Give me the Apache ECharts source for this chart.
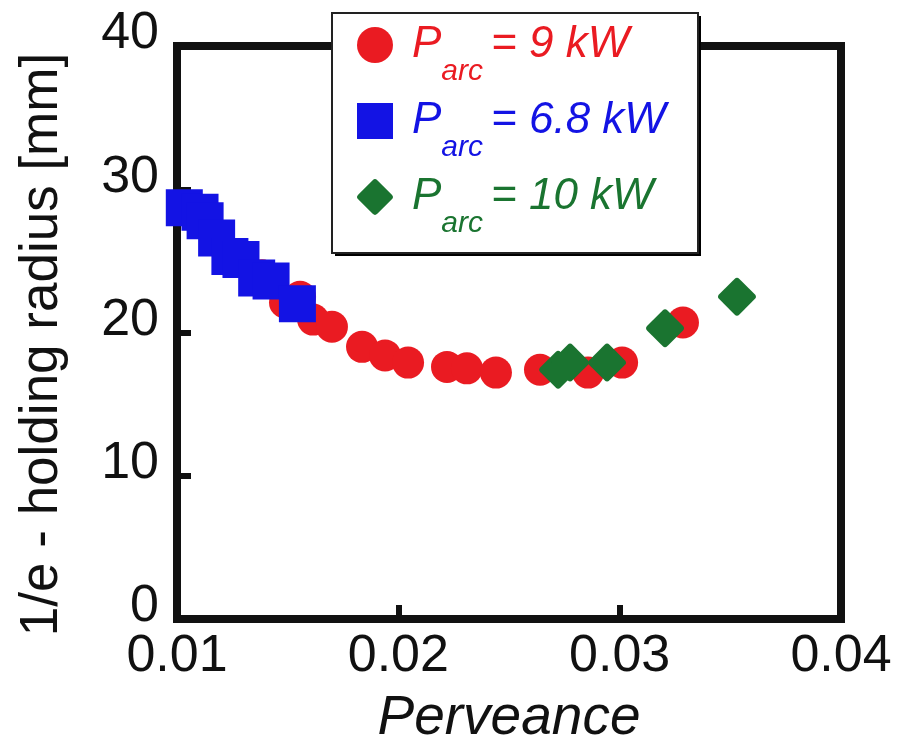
<!DOCTYPE html>
<html>
<head>
<meta charset="utf-8">
<title>Holding radius vs perveance</title>
<script src="https://cdn.jsdelivr.net/npm/echarts@6/dist/echarts.min.js"></script>
<style>
  html, body { margin: 0; padding: 0; background: #fff; }
  #chart { width: 897px; height: 744px; }
</style>
</head>
<body>
<div id="chart"></div>
<script>
// 数据  [perveance, radius mm]
const seriesNames = ['9 kW', '6.8 kW', '10 kW']

const red9kW = [
  [0.01384, 24.0], [0.01488, 22.1], [0.01556, 22.5], [0.01615, 20.9],
  [0.01700, 20.4], [0.01836, 19.0], [0.01940, 18.4], [0.02044, 17.9],
  [0.02220, 17.6], [0.02310, 17.5], [0.02441, 17.2], [0.02640, 17.4],
  [0.02857, 17.2], [0.03011, 17.9], [0.03286, 20.7]
]

const blue68kW = [
  [0.01033, 28.7], [0.01104, 28.4], [0.01127, 27.8], [0.01179, 26.6],
  [0.01239, 25.3], [0.01289, 25.1], [0.01360, 23.8], [0.01425, 23.6],
  [0.01544, 22.0]
]

const green10kW = [
  [0.02722, 17.4], [0.02776, 17.9], [0.02943, 17.9], [0.03205, 20.3],
  [0.03530, 22.5]
]

const xTicks = [0.01, 0.02, 0.03, 0.04]
const yTicks = [0, 10, 20, 30, 40]

const RED = '#ea1b22'
const BLUE = '#1313e4'
const GREEN = '#1a7430'
const INK = '#111'

// 圆角菱形
const diamondPath = 'path://M44,6 Q50,0 56,6 L94,44 Q100,50 94,56 L56,94 Q50,100 44,94 L6,56 Q0,50 6,44 Z'

const chart = echarts.init(document.getElementById('chart'))

// P + 下标 arc + "= x kW"
const legendRich = (key, color) => ({
  ['p' + key]: { fontSize: 44, fontStyle: 'italic', color, lineHeight: 84, padding: [0, 0, 0, 14] },
  ['s' + key]: { fontSize: 30, fontStyle: 'italic', color, lineHeight: 30, padding: [54, 0, 0, 0] },
  ['t' + key]: { fontSize: 44, fontStyle: 'italic', color, lineHeight: 84, padding: [0, 0, 0, 8] }
})

const keyOf = { [seriesNames[0]]: 'r', [seriesNames[1]]: 'b', [seriesNames[2]]: 'g' }

const option = {
  backgroundColor: '#fff',
  textStyle: { fontFamily: 'Liberation Sans, Arial, sans-serif' },
  grid: {
    left: 177,
    right: 56,
    top: 46,
    bottom: 125,
    outerBoundsMode: 'none', // 不要自动缩小绘图区
    show: true,
    borderColor: INK,
    borderWidth: 8
  },
  // 图例的框 (带硬阴影)
  graphic: [
    {
      type: 'rect',
      left: 335,
      top: 16,
      z: 3,
      shape: { width: 366, height: 240 },
      style: { fill: '#000' }
    },
    {
      type: 'rect',
      left: 331,
      top: 12,
      z: 3,
      shape: { width: 366, height: 240 },
      style: { fill: '#fff', stroke: '#222', lineWidth: 2 }
    }
  ],
  legend: {
    left: 357,
    top: 3,
    z: 5,
    orient: 'vertical',
    selectedMode: false,
    itemWidth: 36,
    itemHeight: 36,
    itemGap: -8,
    padding: 0,
    data: seriesNames,
    formatter: (name) => {
      const k = keyOf[name]
      return `{p${k}|P}{s${k}|arc}{t${k}|= ${name}}`
    },
    textStyle: {
      fontFamily: 'Liberation Sans, Arial, sans-serif',
      rich: Object.assign({}, legendRich('r', RED), legendRich('b', BLUE), legendRich('g', GREEN))
    }
  },
  xAxis: {
    type: 'value',
    min: xTicks[0],
    max: xTicks[xTicks.length - 1],
    interval: 0.01,
    name: 'Perveance',
    nameLocation: 'middle',
    nameGap: 72,
    nameTextStyle: { fontSize: 55, fontStyle: 'italic', color: INK },
    axisLine: { show: false },
    splitLine: { show: false },
    axisTick: { inside: true, length: 14, lineStyle: { color: INK, width: 6 } },
    axisLabel: {
      fontSize: 52,
      color: INK,
      margin: 12,
      showMinLabel: true,
      showMaxLabel: true,
      formatter: (v) => v.toFixed(2)
    }
  },
  yAxis: {
    type: 'value',
    min: yTicks[0],
    max: yTicks[yTicks.length - 1],
    interval: 10,
    name: '1/e - holding radius [mm]',
    nameLocation: 'middle',
    nameGap: 108,
    nameTextStyle: { fontSize: 53, color: INK, padding: [0, 24, 0, 0] },
    axisLine: { show: false },
    splitLine: { show: false },
    axisTick: { inside: true, length: 14, lineStyle: { color: INK, width: 6 } },
    axisLabel: {
      fontSize: 52,
      color: INK,
      margin: 18,
      verticalAlign: 'bottom',
      lineHeight: 24
    }
  },
  series: [
    {
      name: seriesNames[0],
      type: 'scatter',
      data: red9kW,
      symbol: 'circle',
      symbolSize: 32,
      itemStyle: { color: RED, opacity: 1 }
    },
    {
      name: seriesNames[1],
      type: 'scatter',
      data: blue68kW,
      symbol: 'rect',
      symbolSize: 37,
      itemStyle: { color: BLUE, opacity: 1 }
    },
    {
      name: seriesNames[2],
      type: 'scatter',
      data: green10kW,
      symbol: diamondPath,
      symbolSize: 38,
      itemStyle: { color: GREEN, opacity: 1 }
    }
  ]
}

chart.setOption(option)
</script>
</body>
</html>
